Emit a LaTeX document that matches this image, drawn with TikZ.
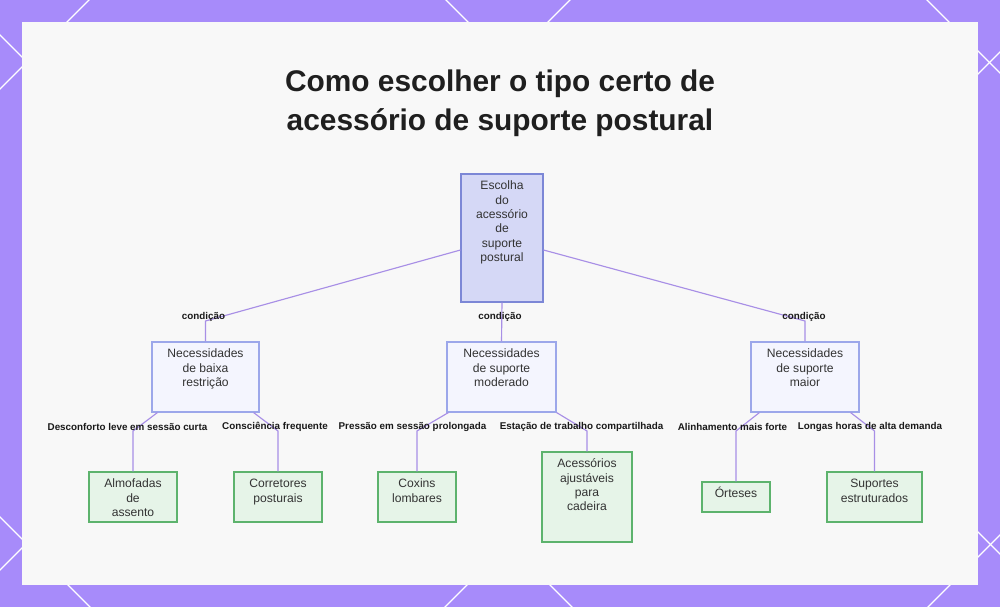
\documentclass[tikz,border=0pt]{standalone}
\usepackage{fontspec}
\setmainfont{Liberation Sans}
\usetikzlibrary{positioning}

\definecolor{framepurple}{HTML}{A78BFA}
\definecolor{panelgray}{HTML}{F8F8F8}
\definecolor{linkpurple}{HTML}{A88FE6}
\definecolor{rootfill}{HTML}{D5D8F6}
\definecolor{rootdraw}{HTML}{7C87D6}
\definecolor{needfill}{HTML}{F4F5FE}
\definecolor{needdraw}{HTML}{9CA7EA}
\definecolor{itemfill}{HTML}{E6F4E8}
\definecolor{itemdraw}{HTML}{5DB36D}
\definecolor{inktext}{HTML}{333333}

% box of fixed size, text hung from the top
\newcommand{\boxtext}[3]{\parbox[c][#2][t]{#1}{\centering\rule{0pt}{8.9pt}#3}}

\begin{document}
\begin{tikzpicture}[x=0.02cm, y=-0.02cm,
    rootbox/.style={draw=rootdraw, fill=rootfill, inner sep=0pt, line width=0.6pt,
        text=inktext, font=\fontsize{6.9}{8.2}\selectfont},
    needbox/.style={rootbox, draw=needdraw, fill=needfill},
    itembox/.style={rootbox, draw=itemdraw, fill=itemfill},
    link/.style={draw=linkpurple, line width=0.65pt},
    condlabel/.style={inner sep=1pt, font=\fontsize{5.6}{6.5}\selectfont\bfseries, text=black!90},
    titletext/.style={align=center, font=\fontsize{17}{22.1}\selectfont\bfseries, text=black!88}]

    \useasboundingbox (0,0) rectangle (1000,607);
    \fill[framepurple] (0,0) rectangle (1000,607);
    \begin{scope}
        \clip (0,0) rectangle (1000,607);
        \foreach \c in {-927,-446,35,517}
            \draw[white, line width=0.75pt] (-\c-60,-60) -- (-\c+700,700);
        \foreach \d in {89,570,1052,1535}
            \draw[white, line width=0.75pt] (\d+60,-60) -- (\d-700,700);
    \end{scope}
    \fill[panelgray] (22,22) rectangle (978,585);

    \node[titletext] (title) at (500,103) {Como escolher o tipo certo de\\acessório de suporte postural};

    \coordinate (lvlone) at (0,321);
    \coordinate (lvltwo) at (0,431);

    % tree
    \node[rootbox] (root) at (502,238) {\boxtext{1.64cm}{2.56cm}{Escolha\\do\\acessório\\de\\suporte\\postural}};

    \node[needbox] (low) at (205.5,377) {\boxtext{2.14cm}{1.40cm}{Necessidades\\de baixa\\restrição}};
    \node[needbox] (mod) at (501.5,377) {\boxtext{2.18cm}{1.40cm}{Necessidades\\de suporte\\moderado}};
    \node[needbox] (high) at (805,377) {\boxtext{2.16cm}{1.40cm}{Necessidades\\de suporte\\maior}};

    \node[itembox] (cushion) at (133,497) {\boxtext{1.76cm}{1.00cm}{Almofadas\\de\\assento}};
    \node[itembox] (corrector) at (278,497) {\boxtext{1.76cm}{1.00cm}{Corretores\\posturais}};
    \node[itembox] (lumbar) at (417,497) {\boxtext{1.56cm}{1.00cm}{Coxins\\lombares}};
    \node[itembox] (chair) at (587,497) {\boxtext{1.80cm}{1.80cm}{Acessórios\\ajustáveis\\para\\cadeira}};
    \node[itembox] (orthosis) at (736,497) {\boxtext{1.36cm}{0.60cm}{Órteses}};
    \node[itembox] (frame) at (874.5,497) {\boxtext{1.90cm}{1.00cm}{Suportes\\estruturados}};

    \draw[link] ([yshift=-0.24cm]root.west) -- (low.north |- lvlone) -- (low.north);
    \draw[link] (root.south) -- (mod.north);
    \draw[link] ([yshift=-0.24cm]root.east) -- (high.north |- lvlone) -- (high.north);

    \draw[link] ([xshift=0.12cm]low.south west) -- (cushion.north |- lvltwo) -- (cushion.north);
    \draw[link] ([xshift=-0.12cm]low.south east) -- (corrector.north |- lvltwo) -- (corrector.north);
    \draw[link] ([xshift=0.04cm]mod.south west) -- (lumbar.north |- lvltwo) -- (lumbar.north);
    \draw[link] (mod.south east) -- (chair.north |- lvltwo) -- (chair.north);
    \draw[link] ([xshift=0.18cm]high.south west) -- (orthosis.north |- lvltwo) -- (orthosis.north);
    \draw[link] ([xshift=-0.18cm]high.south east) -- (frame.north |- lvltwo) -- (frame.north);

    \node[condlabel] (cond1) at (203.5,317) {condição};
    \node[condlabel] (cond2) at (500,317) {condição};
    \node[condlabel] (cond3) at (804,317) {condição};

    \node[condlabel] (when1) at (127.5,427) {Desconforto leve em sessão curta};
    \node[condlabel] (when2) at (275,427) {Consciência frequente};
    \node[condlabel] (when3) at (412.5,427) {Pressão em sessão prolongada};
    \node[condlabel] (when4) at (581.5,427) {Estação de trabalho compartilhada};
    \node[condlabel] (when5) at (732.5,427) {Alinhamento mais forte};
    \node[condlabel] (when6) at (870,427) {Longas horas de alta demanda};
\end{tikzpicture}
\end{document}
